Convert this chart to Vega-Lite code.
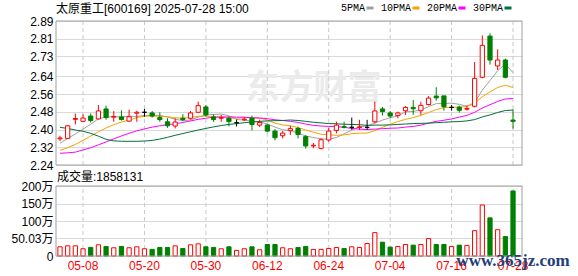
{
  "$schema": "https://vega.github.io/schema/vega-lite/v6.json",
  "width": 466,
  "height": 235,
  "autosize": {"type": "none"},
  "padding": {"left": 56, "top": 21, "right": 56, "bottom": 20},
  "background": "#ffffff",
  "title": {"text": "太原重工[600169] 2025-07-28 15:00", "anchor": "start", "frame": "group", "offset": 0, "dy": 13, "fontSize": 12, "fontWeight": "normal", "font": "Liberation Sans, Noto Sans CJK SC", "color": "#000000"},
  "config": {
    "view": {"stroke": null},
    "axis": {"labelFont": "Liberation Sans, Noto Sans CJK SC", "labelFontSize": 12, "labelColor": "#000000"}
  },
  "datasets": {
    "k": [
      {"d":"04-30","o":2.358,"h":2.372,"l":2.348,"c":2.362,"vol":263000,"5PMA":2.338,"10PMA":2.306,"20PMA":2.293,"30PMA":2.410},
      {"d":"05-06","o":2.360,"h":2.420,"l":2.357,"c":2.417,"vol":291000,"5PMA":2.360,"10PMA":2.318,"20PMA":2.295,"30PMA":2.405},
      {"d":"05-07","o":2.446,"h":2.472,"l":2.423,"c":2.450,"vol":291000,"5PMA":2.380,"10PMA":2.333,"20PMA":2.298,"30PMA":2.398},
      {"d":"05-08","o":2.437,"h":2.469,"l":2.436,"c":2.452,"vol":207000,"5PMA":2.402,"10PMA":2.351,"20PMA":2.308,"30PMA":2.392},
      {"d":"05-09","o":2.461,"h":2.473,"l":2.432,"c":2.441,"vol":244000,"5PMA":2.424,"10PMA":2.371,"20PMA":2.318,"30PMA":2.383},
      {"d":"05-12","o":2.448,"h":2.511,"l":2.445,"c":2.484,"vol":320000,"5PMA":2.449,"10PMA":2.390,"20PMA":2.331,"30PMA":2.370},
      {"d":"05-13","o":2.493,"h":2.508,"l":2.445,"c":2.454,"vol":273000,"5PMA":2.456,"10PMA":2.407,"20PMA":2.344,"30PMA":2.356},
      {"d":"05-14","o":2.456,"h":2.484,"l":2.435,"c":2.459,"vol":235000,"5PMA":2.458,"10PMA":2.422,"20PMA":2.358,"30PMA":2.349},
      {"d":"05-15","o":2.457,"h":2.487,"l":2.441,"c":2.445,"vol":273000,"5PMA":2.457,"10PMA":2.434,"20PMA":2.371,"30PMA":2.347},
      {"d":"05-16","o":2.438,"h":2.490,"l":2.435,"c":2.458,"vol":235000,"5PMA":2.460,"10PMA":2.442,"20PMA":2.383,"30PMA":2.347},
      {"d":"05-19","o":2.474,"h":2.485,"l":2.435,"c":2.478,"vol":263000,"5PMA":2.459,"10PMA":2.454,"20PMA":2.394,"30PMA":2.347},
      {"d":"05-20","o":2.478,"h":2.493,"l":2.458,"c":2.478,"vol":207000,"5PMA":2.464,"10PMA":2.460,"20PMA":2.403,"30PMA":2.348},
      {"d":"05-21","o":2.475,"h":2.484,"l":2.454,"c":2.461,"vol":188000,"5PMA":2.464,"10PMA":2.461,"20PMA":2.411,"30PMA":2.351},
      {"d":"05-22","o":2.454,"h":2.478,"l":2.435,"c":2.445,"vol":244000,"5PMA":2.464,"10PMA":2.460,"20PMA":2.417,"30PMA":2.357},
      {"d":"05-23","o":2.435,"h":2.451,"l":2.408,"c":2.417,"vol":244000,"5PMA":2.456,"10PMA":2.458,"20PMA":2.422,"30PMA":2.365},
      {"d":"05-26","o":2.416,"h":2.451,"l":2.405,"c":2.434,"vol":291000,"5PMA":2.447,"10PMA":2.453,"20PMA":2.426,"30PMA":2.374},
      {"d":"05-27","o":2.451,"h":2.469,"l":2.438,"c":2.445,"vol":216000,"5PMA":2.440,"10PMA":2.452,"20PMA":2.432,"30PMA":2.382},
      {"d":"05-28","o":2.451,"h":2.484,"l":2.445,"c":2.475,"vol":320000,"5PMA":2.443,"10PMA":2.454,"20PMA":2.439,"30PMA":2.390},
      {"d":"05-29","o":2.478,"h":2.526,"l":2.475,"c":2.508,"vol":348000,"5PMA":2.456,"10PMA":2.460,"20PMA":2.446,"30PMA":2.398},
      {"d":"05-30","o":2.502,"h":2.511,"l":2.458,"c":2.466,"vol":263000,"5PMA":2.466,"10PMA":2.461,"20PMA":2.451,"30PMA":2.405},
      {"d":"06-03","o":2.457,"h":2.469,"l":2.435,"c":2.445,"vol":244000,"5PMA":2.468,"10PMA":2.457,"20PMA":2.456,"30PMA":2.412},
      {"d":"06-04","o":2.451,"h":2.466,"l":2.435,"c":2.454,"vol":207000,"5PMA":2.470,"10PMA":2.455,"20PMA":2.457,"30PMA":2.418},
      {"d":"06-05","o":2.451,"h":2.458,"l":2.414,"c":2.436,"vol":263000,"5PMA":2.462,"10PMA":2.453,"20PMA":2.457,"30PMA":2.423},
      {"d":"06-06","o":2.431,"h":2.445,"l":2.414,"c":2.431,"vol":160000,"5PMA":2.446,"10PMA":2.451,"20PMA":2.456,"30PMA":2.427},
      {"d":"06-09","o":2.444,"h":2.457,"l":2.438,"c":2.447,"vol":207000,"5PMA":2.442,"10PMA":2.454,"20PMA":2.456,"30PMA":2.431},
      {"d":"06-10","o":2.451,"h":2.463,"l":2.396,"c":2.423,"vol":263000,"5PMA":2.438,"10PMA":2.453,"20PMA":2.453,"30PMA":2.434},
      {"d":"06-11","o":2.420,"h":2.445,"l":2.411,"c":2.432,"vol":179000,"5PMA":2.434,"10PMA":2.452,"20PMA":2.452,"30PMA":2.437},
      {"d":"06-12","o":2.420,"h":2.426,"l":2.387,"c":2.393,"vol":329000,"5PMA":2.425,"10PMA":2.443,"20PMA":2.449,"30PMA":2.439},
      {"d":"06-13","o":2.393,"h":2.402,"l":2.351,"c":2.363,"vol":329000,"5PMA":2.411,"10PMA":2.429,"20PMA":2.444,"30PMA":2.440},
      {"d":"06-16","o":2.372,"h":2.393,"l":2.360,"c":2.384,"vol":235000,"5PMA":2.399,"10PMA":2.421,"20PMA":2.441,"30PMA":2.441},
      {"d":"06-17","o":2.395,"h":2.417,"l":2.375,"c":2.404,"vol":207000,"5PMA":2.395,"10PMA":2.417,"20PMA":2.437,"30PMA":2.443},
      {"d":"06-18","o":2.405,"h":2.413,"l":2.360,"c":2.378,"vol":244000,"5PMA":2.384,"10PMA":2.409,"20PMA":2.432,"30PMA":2.441},
      {"d":"06-19","o":2.368,"h":2.375,"l":2.314,"c":2.326,"vol":273000,"5PMA":2.371,"10PMA":2.398,"20PMA":2.425,"30PMA":2.437},
      {"d":"06-20","o":2.326,"h":2.340,"l":2.316,"c":2.329,"vol":188000,"5PMA":2.364,"10PMA":2.388,"20PMA":2.419,"30PMA":2.433},
      {"d":"06-23","o":2.315,"h":2.360,"l":2.310,"c":2.354,"vol":188000,"5PMA":2.358,"10PMA":2.379,"20PMA":2.416,"30PMA":2.430},
      {"d":"06-24","o":2.353,"h":2.408,"l":2.345,"c":2.393,"vol":216000,"5PMA":2.356,"10PMA":2.376,"20PMA":2.414,"30PMA":2.427},
      {"d":"06-25","o":2.396,"h":2.436,"l":2.383,"c":2.420,"vol":244000,"5PMA":2.364,"10PMA":2.374,"20PMA":2.413,"30PMA":2.426},
      {"d":"06-26","o":2.413,"h":2.435,"l":2.405,"c":2.410,"vol":216000,"5PMA":2.381,"10PMA":2.376,"20PMA":2.410,"30PMA":2.424},
      {"d":"06-27","o":2.410,"h":2.454,"l":2.399,"c":2.410,"vol":263000,"5PMA":2.397,"10PMA":2.381,"20PMA":2.405,"30PMA":2.423},
      {"d":"06-30","o":2.409,"h":2.444,"l":2.399,"c":2.412,"vol":244000,"5PMA":2.413,"10PMA":2.384,"20PMA":2.402,"30PMA":2.422},
      {"d":"07-01","o":2.410,"h":2.444,"l":2.399,"c":2.410,"vol":357000,"5PMA":2.416,"10PMA":2.384,"20PMA":2.400,"30PMA":2.419},
      {"d":"07-02","o":2.435,"h":2.526,"l":2.428,"c":2.484,"vol":667000,"5PMA":2.429,"10PMA":2.395,"20PMA":2.402,"30PMA":2.420},
      {"d":"07-03","o":2.493,"h":2.502,"l":2.463,"c":2.481,"vol":395000,"5PMA":2.443,"10PMA":2.410,"20PMA":2.404,"30PMA":2.420},
      {"d":"07-04","o":2.475,"h":2.484,"l":2.451,"c":2.461,"vol":254000,"5PMA":2.453,"10PMA":2.424,"20PMA":2.406,"30PMA":2.421},
      {"d":"07-07","o":2.463,"h":2.481,"l":2.451,"c":2.475,"vol":273000,"5PMA":2.462,"10PMA":2.436,"20PMA":2.407,"30PMA":2.423},
      {"d":"07-08","o":2.485,"h":2.506,"l":2.466,"c":2.500,"vol":329000,"5PMA":2.480,"10PMA":2.446,"20PMA":2.411,"30PMA":2.425},
      {"d":"07-09","o":2.500,"h":2.533,"l":2.466,"c":2.494,"vol":310000,"5PMA":2.482,"10PMA":2.454,"20PMA":2.414,"30PMA":2.427},
      {"d":"07-10","o":2.485,"h":2.526,"l":2.466,"c":2.509,"vol":329000,"5PMA":2.488,"10PMA":2.464,"20PMA":2.420,"30PMA":2.428},
      {"d":"07-11","o":2.513,"h":2.551,"l":2.509,"c":2.542,"vol":498000,"5PMA":2.504,"10PMA":2.477,"20PMA":2.429,"30PMA":2.429},
      {"d":"07-14","o":2.551,"h":2.591,"l":2.530,"c":2.543,"vol":329000,"5PMA":2.517,"10PMA":2.490,"20PMA":2.437,"30PMA":2.431},
      {"d":"07-15","o":2.552,"h":2.552,"l":2.485,"c":2.503,"vol":329000,"5PMA":2.518,"10PMA":2.499,"20PMA":2.442,"30PMA":2.433},
      {"d":"07-16","o":2.500,"h":2.511,"l":2.485,"c":2.500,"vol":273000,"5PMA":2.519,"10PMA":2.501,"20PMA":2.448,"30PMA":2.435},
      {"d":"07-17","o":2.501,"h":2.508,"l":2.477,"c":2.487,"vol":310000,"5PMA":2.514,"10PMA":2.501,"20PMA":2.456,"30PMA":2.436},
      {"d":"07-18","o":2.492,"h":2.509,"l":2.485,"c":2.495,"vol":301000,"5PMA":2.505,"10PMA":2.504,"20PMA":2.464,"30PMA":2.439},
      {"d":"07-21","o":2.505,"h":2.705,"l":2.500,"c":2.631,"vol":724000,"5PMA":2.522,"10PMA":2.520,"20PMA":2.478,"30PMA":2.445},
      {"d":"07-22","o":2.636,"h":2.825,"l":2.631,"c":2.780,"vol":1457000,"5PMA":2.578,"10PMA":2.548,"20PMA":2.497,"30PMA":2.457},
      {"d":"07-23","o":2.822,"h":2.834,"l":2.693,"c":2.714,"vol":1090000,"5PMA":2.621,"10PMA":2.570,"20PMA":2.512,"30PMA":2.466},
      {"d":"07-24","o":2.687,"h":2.762,"l":2.669,"c":2.714,"vol":752000,"5PMA":2.666,"10PMA":2.590,"20PMA":2.527,"30PMA":2.477},
      {"d":"07-25","o":2.714,"h":2.720,"l":2.631,"c":2.636,"vol":555000,"5PMA":2.695,"10PMA":2.600,"20PMA":2.538,"30PMA":2.486},
      {"d":"07-28","o":2.443,"h":2.491,"l":2.404,"c":2.437,"vol":1858131,"5PMA":2.657,"10PMA":2.590,"20PMA":2.540,"30PMA":2.488}
    ]
  },
  "data": {"name": "k"},
  "layer": [
    {
      "layer": [
        {
          "data": {"values": [{"t": "东方财富"}]},
          "mark": {"type": "text", "font": "Noto Sans CJK SC", "fontSize": 34, "fontWeight": "bold", "color": "#ebebeb", "align": "center", "baseline": "middle"},
          "encoding": {
            "x": {"datum": "06-20", "type": "ordinal", "scale": {"paddingInner": 0.45, "paddingOuter": 0.57, "align": 0.216}, "axis": {"values": ["05-08","05-20","05-30","06-12","06-24","07-04","07-16","07-28"], "title": null, "ticks": false, "domain": false, "grid": false, "labelColor": "#ff0000", "labelPadding": 4, "labelAngle": 0, "labelOverlap": false, "labelFontSize": 12}},
            "y": {"datum": 2.583, "type": "quantitative", "scale": {"domain": [2.24, 2.89], "range": [144, 0], "nice": false, "zero": false}},
            "text": {"field": "t"}
          }
        },
        {
          "transform": [{"filter": {"field": "d", "oneOf": ["05-08","05-20","05-30","06-12","06-24","07-04","07-16","07-28"]}}],
          "mark": {"type": "rule", "color": "#c8c8c8", "strokeDash": [4, 3], "strokeWidth": 1},
          "encoding": {
            "x": {"field": "d", "type": "ordinal", "scale": {"paddingInner": 0.45, "paddingOuter": 0.57, "align": 0.216}},
            "y": {"datum": 2.24, "type": "quantitative", "scale": {"domain": [2.24, 2.89], "range": [144, 0], "nice": false, "zero": false}},
            "y2": {"datum": 2.89}
          }
        },
        {
          "transform": [{"fold": ["5PMA", "10PMA", "20PMA", "30PMA"], "as": ["ma", "v"]}],
          "mark": {"type": "line", "strokeWidth": 1},
          "encoding": {
            "x": {"field": "d", "type": "ordinal", "scale": {"paddingInner": 0.45, "paddingOuter": 0.57, "align": 0.216}},
            "y": {"field": "v", "type": "quantitative", "scale": {"domain": [2.24, 2.89], "range": [144, 0], "nice": false, "zero": false},
                  "axis": {"orient": "left", "title": null, "values": [2.24, 2.32, 2.4, 2.48, 2.56, 2.64, 2.73, 2.81, 2.89], "tickCount": 20, "format": ".2f", "grid": true, "gridColor": "#d9d9d9", "ticks": false, "domain": false, "labelPadding": 3, "labelFlush": false, "labelOverlap": false}},
            "color": {"field": "ma", "type": "nominal",
                      "scale": {"domain": ["5PMA", "10PMA", "20PMA", "30PMA"], "range": ["#a0a0a0", "#f5a300", "#ff00ff", "#00703c"]},
                      "legend": {"title": null, "orient": "none", "legendX": 309, "legendY": -18, "direction": "horizontal", "symbolType": "stroke", "symbolSize": 49, "symbolStrokeWidth": 3, "labelFont": "Liberation Mono", "labelFontSize": 10, "labelColor": "#000000", "labelAlign": "right", "labelOffset": -10, "columnPadding": 0, "padding": 0}}
          }
        },
        {
          "mark": {"type": "rule", "strokeWidth": 1},
          "encoding": {
            "x": {"field": "d", "type": "ordinal", "scale": {"paddingInner": 0.45, "paddingOuter": 0.57, "align": 0.216}},
            "y": {"field": "l", "type": "quantitative", "scale": {"domain": [2.24, 2.89], "range": [144, 0], "nice": false, "zero": false}},
            "y2": {"field": "h"},
            "color": {"condition": [{"test": "datum.c > datum.o", "value": "#ff0000"}, {"test": "datum.c < datum.o", "value": "#008000"}], "value": "#000000"}
          }
        },
        {
          "mark": {"type": "bar", "strokeWidth": 1},
          "encoding": {
            "x": {"field": "d", "type": "ordinal", "scale": {"paddingInner": 0.45, "paddingOuter": 0.57, "align": 0.216}},
            "y": {"field": "o", "type": "quantitative", "scale": {"domain": [2.24, 2.89], "range": [144, 0], "nice": false, "zero": false}},
            "y2": {"field": "c"},
            "fill": {"condition": [{"test": "datum.c > datum.o", "value": "#ffffff"}, {"test": "datum.c < datum.o", "value": "#008000"}], "value": "#000000"},
            "stroke": {"condition": [{"test": "datum.c > datum.o", "value": "#ff0000"}, {"test": "datum.c < datum.o", "value": "#008000"}], "value": "#000000"}
          }
        },
        {
          "data": {"values": [{"a": 1}]},
          "mark": {"type": "rect", "fill": "#ffffff", "fillOpacity": 0, "stroke": "#a0a0a0", "strokeWidth": 1},
          "encoding": {
            "y": {"datum": 2.24, "type": "quantitative", "scale": {"domain": [2.24, 2.89], "range": [144, 0], "nice": false, "zero": false}},
            "y2": {"datum": 2.89}
          }
        }
      ]
    },
    {
      "layer": [
        {
          "transform": [{"filter": {"field": "d", "oneOf": ["05-08","05-20","05-30","06-12","06-24","07-04","07-16","07-28"]}}],
          "mark": {"type": "rule", "color": "#c8c8c8", "strokeDash": [4, 3], "strokeWidth": 1},
          "encoding": {
            "x": {"field": "d", "type": "ordinal", "scale": {"paddingInner": 0.45, "paddingOuter": 0.57, "align": 0.216}},
            "y": {"datum": 0, "type": "quantitative", "scale": {"domain": [0, 2000000], "range": [235, 165], "nice": false, "zero": true}},
            "y2": {"datum": 2000000}
          }
        },
        {
          "mark": {"type": "bar", "strokeWidth": 1},
          "encoding": {
            "x": {"field": "d", "type": "ordinal", "scale": {"paddingInner": 0.45, "paddingOuter": 0.57, "align": 0.216}},
            "y": {"field": "vol", "type": "quantitative", "scale": {"domain": [0, 2000000], "range": [235, 165], "nice": false, "zero": true},
                  "axis": {"orient": "left", "title": null, "values": [0, 500300, 1000000, 1500000, 2000000], "tickCount": 20, "labelExpr": "datum.value == 0 ? '0' : (round(datum.value / 100) / 100) + '万'", "grid": true, "gridColor": "#d9d9d9", "ticks": false, "domain": false, "labelPadding": 3, "labelFlush": false, "labelOverlap": false}},
            "fill": {"condition": {"test": "datum.c >= datum.o", "value": "#ffffff"}, "value": "#008000"},
            "stroke": {"condition": {"test": "datum.c >= datum.o", "value": "#ff0000"}, "value": "#008000"}
          }
        },
        {
          "data": {"values": [{"a": 1}]},
          "mark": {"type": "rect", "fill": "#ffffff", "fillOpacity": 0, "stroke": "#a0a0a0", "strokeWidth": 1},
          "encoding": {
            "y": {"datum": 0, "type": "quantitative", "scale": {"domain": [0, 2000000], "range": [235, 165], "nice": false, "zero": true}},
            "y2": {"datum": 2000000}
          }
        },
        {
          "data": {"values": [{"t": "成交量:1858131"}]},
          "mark": {"type": "text", "align": "left", "baseline": "middle", "dx": -3, "fontSize": 12, "font": "Liberation Sans, Noto Sans CJK SC", "color": "#000000"},
          "encoding": {
            "x": {"datum": "04-30", "type": "ordinal", "scale": {"paddingInner": 0.45, "paddingOuter": 0.57, "align": 0.216}},
            "y": {"datum": 2250000, "type": "quantitative", "scale": {"domain": [0, 2000000], "range": [235, 165], "nice": false, "zero": true}},
            "text": {"field": "t"}
          }
        },
        {
          "data": {"values": [{"t": "www.365jz.com"}]},
          "mark": {"type": "text", "align": "center", "baseline": "middle", "fontSize": 17, "fontWeight": "bold", "font": "Liberation Serif", "color": "#1f3f7a"},
          "encoding": {
            "x": {"datum": "07-28", "type": "ordinal", "scale": {"paddingInner": 0.45, "paddingOuter": 0.57, "align": 0.216}},
            "y": {"datum": -150000, "type": "quantitative", "scale": {"domain": [0, 2000000], "range": [235, 165], "nice": false, "zero": true}},
            "text": {"field": "t"}
          }
        }
      ]
    }
  ],
  "resolve": {"scale": {"y": "independent"}, "axis": {"y": "independent"}}
}
